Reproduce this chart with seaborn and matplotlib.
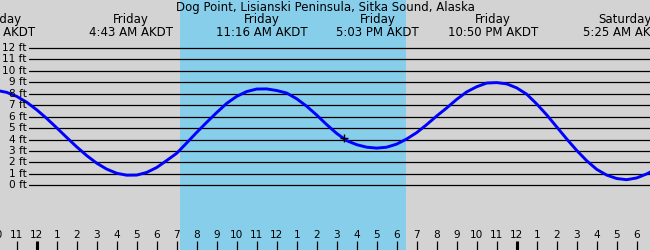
import matplotlib
matplotlib.use("Agg")
import matplotlib.pyplot as plt
import seaborn as sns
import pandas as pd

# ---------------- data ----------------
title = "Dog Point, Lisianski Peninsula, Sitka Sound, Alaska"

# hours relative to Friday 00:00 AKDT, and tide height in ft
hours = [-2.0, -1.5, -1.0, -0.5, 0.0, 0.5, 1.0, 1.5, 2.0, 2.5, 3.0, 3.5, 4.0, 4.5,
         5.0, 5.5, 6.0, 6.5, 7.0, 7.5, 8.0, 8.5, 9.0, 9.5, 10.0, 10.5, 11.0, 11.5,
         12.0, 12.5, 13.0, 13.5, 14.0, 14.5, 15.0, 15.5, 16.0, 16.5, 17.0, 17.5,
         18.0, 18.5, 19.0, 19.5, 20.0, 20.5, 21.0, 21.5, 22.0, 22.5, 23.0, 23.5,
         24.0, 24.5, 25.0, 25.5, 26.0, 26.5, 27.0, 27.5, 28.0, 28.5, 29.0, 29.5,
         30.0, 30.5, 31.0]
heights = [8.28, 8.11, 7.76, 7.25, 6.59, 5.84, 5.02, 4.18, 3.36, 2.60, 1.94, 1.42, 1.06, 0.89,
           0.90, 1.13, 1.56, 2.17, 2.80, 3.70, 4.62, 5.50, 6.35, 7.15, 7.76, 8.18, 8.40, 8.41,
           8.27, 8.05, 7.55, 6.90, 6.13, 5.30, 4.53, 3.90, 3.55, 3.33, 3.25, 3.33,
           3.60, 4.05, 4.60, 5.30, 6.05, 6.75, 7.50, 8.15, 8.60, 8.92, 8.96, 8.85,
           8.50, 7.95, 7.10, 6.15, 5.10, 4.05, 3.05, 2.15, 1.40, 0.90, 0.60, 0.50,
           0.65, 1.00, 1.45]

# tide extremes (labels at top)
extreme_hours = [-2.18, 4.72, 11.27, 17.05, 22.83, 29.42]
extreme_days = ["Thursday", "Friday", "Friday", "Friday", "Friday", "Saturday"]
extreme_times = ["9:49 PM AKDT", "4:43 AM AKDT", "11:16 AM AKDT",
                 "5:03 PM AKDT", "10:50 PM AKDT", "5:25 AM AKDT"]

# current time marker
now_hour = 15.38
now_height = 4.17

# daylight band
day_start = 7.17
day_end = 18.47

# y grid levels and labels
levels = [0, 1, 2, 3, 4, 5, 6, 7, 8, 9, 10, 11, 12]
level_labels = ["0 ft", "1 ft", "2 ft", "3 ft", "4 ft", "5 ft", "6 ft", "7 ft",
                "8 ft", "9 ft", "10 ft", "11 ft", "12 ft"]

# hour ticks
tick_hours = [-2, -1, 0, 1, 2, 3, 4, 5, 6, 7, 8, 9, 10, 11, 12, 13, 14, 15, 16,
              17, 18, 19, 20, 21, 22, 23, 24, 25, 26, 27, 28, 29, 30]
tick_labels = ["10", "11", "12", "1", "2", "3", "4", "5", "6", "7", "8", "9", "10",
               "11", "12", "1", "2", "3", "4", "5", "6", "7", "8", "9", "10", "11",
               "12", "1", "2", "3", "4", "5", "6"]
midnights = [0, 24]

# ---------------- plot ----------------
sns.set_theme(style="white")
plt.rcParams["font.family"] = ["DejaVu Sans"]
plt.rcParams["text.color"] = "black"

BG = "#d3d3d3"
SKY = "#87ceeb"

fig = plt.figure(figsize=(6.5, 2.5), dpi=100, facecolor=BG)
ax = fig.add_axes([0, 0, 1, 1])
ax.set_facecolor(BG)

ax.set_xlim(-1.835, 30.665)
ax.set_ylim(-5.63, 16.16)

ax.axvspan(day_start, day_end, color=SKY, lw=0, zorder=0)

for lv in levels:
    ax.axhline(lv, xmin=29 / 650, xmax=1, color="black", lw=0.9, zorder=1)

df = pd.DataFrame({"hour": hours, "height": heights})
sns.lineplot(data=df, x="hour", y="height", color="#0000ff", lw=2.1, ax=ax,
             zorder=3, legend=False)

ax.plot([now_hour], [now_height], marker="+", color="black", ms=6, mew=1.0, zorder=4)

ylab_trans = ax.get_yaxis_transform()
for lv, lab in zip(levels, level_labels):
    ax.text(27 / 650, lv, lab, transform=ylab_trans, ha="right", va="center",
            fontsize=7.6, color="black")

xtrans = ax.get_xaxis_transform()
for h, lab in zip(tick_hours, tick_labels):
    ax.text(h, 0.06, lab, transform=xtrans, ha="center", va="center",
            fontsize=7.6, color="black")
    lw = 2.2 if h in midnights else 0.9
    ax.vlines(h, 0, 0.036, transform=xtrans, color="black", lw=lw)

for h, d, t in zip(extreme_hours, extreme_days, extreme_times):
    ax.text(h, 0.92, d, transform=xtrans, ha="center", va="center", fontsize=8.5,
            color="black")
    ax.text(h, 0.872, t, transform=xtrans, ha="center", va="center", fontsize=8.5,
            color="black")

ax.text(0.5, 0.972, title, transform=ax.transAxes, ha="center", va="center",
        fontsize=8.5, color="black")

ax.set_xlabel("")
ax.set_ylabel("")
ax.set_xticks([])
ax.set_yticks([])
for s in ax.spines.values():
    s.set_visible(False)

fig.savefig("out.png", dpi=100, facecolor=BG)
